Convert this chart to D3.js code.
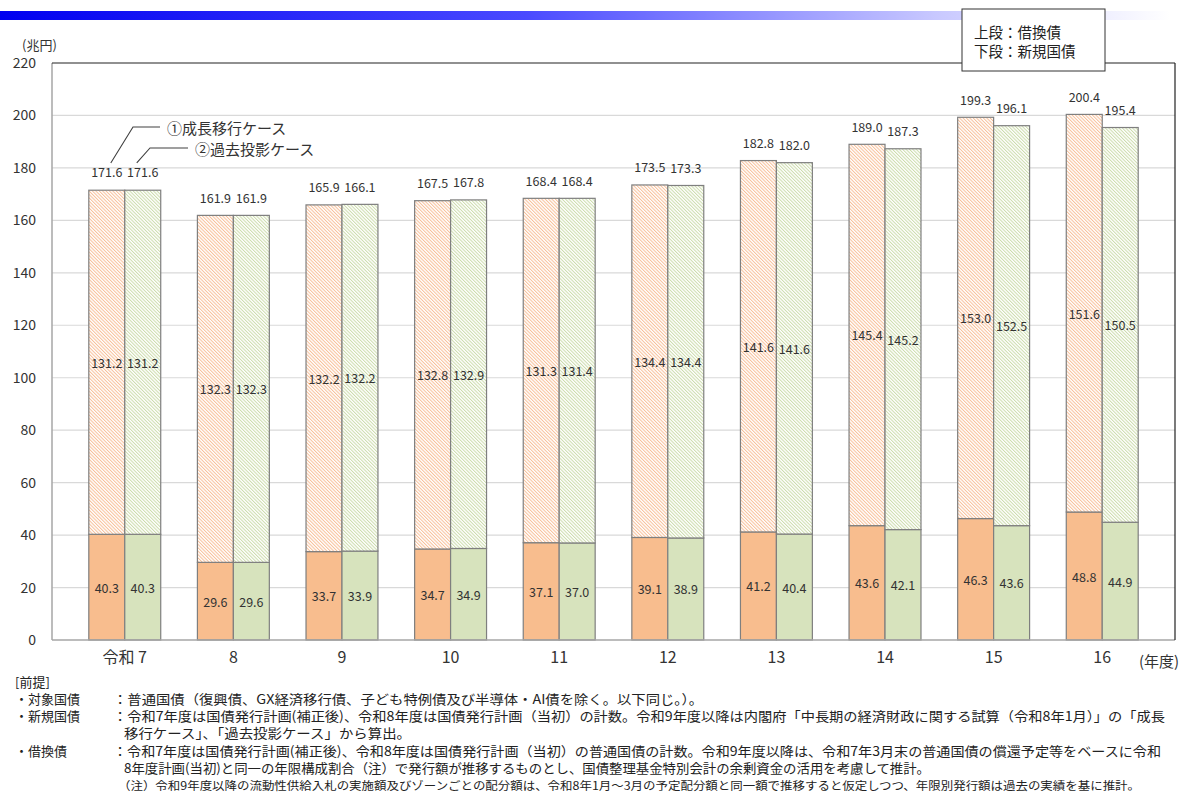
<!DOCTYPE html>
<html>
<head>
<meta charset="utf-8">
<script src="https://cdn.jsdelivr.net/npm/d3@7"></script>
<style>
  html, body { margin: 0; padding: 0; background: #fff; }
  svg { display: block; font-family: "Noto Sans CJK JP", "Noto Sans", sans-serif; }
</style>
</head>
<body>
<svg id="chart" width="1179" height="792"></svg>
<script>
// Fiscal years (Reiwa era)
const categories = ["令和 7", "8", "9", "10", "11", "12", "13", "14", "15", "16"];

// ① 成長移行ケース (trillion yen)
const newBondsGrowth = [40.3, 29.6, 33.7, 34.7, 37.1, 39.1, 41.2, 43.6, 46.3, 48.8];
const refiGrowth     = [131.2, 132.3, 132.2, 132.8, 131.3, 134.4, 141.6, 145.4, 153.0, 151.6];
const totalGrowth    = [171.6, 161.9, 165.9, 167.5, 168.4, 173.5, 182.8, 189.0, 199.3, 200.4];

// ② 過去投影ケース (trillion yen)
const newBondsPast = [40.3, 29.6, 33.9, 34.9, 37.0, 38.9, 40.4, 42.1, 43.6, 44.9];
const refiPast     = [131.2, 132.3, 132.2, 132.9, 131.4, 134.4, 141.6, 145.2, 152.5, 150.5];
const totalPast    = [171.6, 161.9, 166.1, 167.8, 168.4, 173.3, 182.0, 187.3, 196.1, 195.4];

const yTicks = [0, 20, 40, 60, 80, 100, 120, 140, 160, 180, 200, 220];

const series = [
  { key: "growth", newVals: newBondsGrowth, refiVals: refiGrowth, totals: totalGrowth,
    solid: "#f8bd8e", hatch: "#f8bf98", hatchId: "hatchOrange" },
  { key: "past", newVals: newBondsPast, refiVals: refiPast, totals: totalPast,
    solid: "#d7e3bd", hatch: "#ccdcab", hatchId: "hatchGreen" }
];

const svg = d3.select("#chart");
const plot = { left: 52, right: 1175, top: 63, bottom: 640 };

// header bar gradient
const defs = svg.append("defs");
const grad = defs.append("linearGradient").attr("id", "headerGrad")
  .attr("x1", "0%").attr("x2", "100%").attr("y1", "0%").attr("y2", "0%");
grad.append("stop").attr("offset", "0%").attr("stop-color", "#0000f0");
grad.append("stop").attr("offset", "45%").attr("stop-color", "#4a4aff");
grad.append("stop").attr("offset", "80%").attr("stop-color", "#c8c8ff");
grad.append("stop").attr("offset", "100%").attr("stop-color", "#ffffff");
svg.append("rect").attr("x", 0).attr("y", 11).attr("width", 1170).attr("height", 9)
  .attr("fill", "url(#headerGrad)");

// fine diagonal hatch patterns for refinancing bonds
const hatchStep = 2.4;
series.forEach(s => {
  const p = defs.append("pattern").attr("id", s.hatchId)
    .attr("patternUnits", "userSpaceOnUse").attr("width", hatchStep).attr("height", hatchStep)
    .attr("patternTransform", "rotate(-45)");
  p.append("rect").attr("width", hatchStep).attr("height", hatchStep).attr("fill", "#fff");
  p.append("line").attr("x1", 0.5).attr("y1", 0).attr("x2", 0.5).attr("y2", hatchStep)
    .attr("stroke", s.hatch).attr("stroke-width", 1);
});

const x = d3.scaleBand().domain(categories).range([plot.left, plot.right])
  .paddingInner(0).paddingOuter(0.17);
const xSub = d3.scaleBand().domain(series.map(s => s.key)).range([0, x.bandwidth()])
  .paddingInner(0).paddingOuter(0.51);
const y = d3.scaleLinear().domain([0, 220]).range([plot.bottom, plot.top]);

// gridlines
svg.append("g").selectAll("line").data(yTicks.filter(t => t > 0 && t < 220)).join("line")
  .attr("x1", plot.left).attr("x2", plot.right)
  .attr("y1", d => y(d)).attr("y2", d => y(d))
  .attr("stroke", "#d9d9d9").attr("stroke-width", 1.2);

// y axis labels
const yAxis = svg.append("g").attr("transform", `translate(${plot.left},0)`)
  .call(d3.axisLeft(y).tickValues(yTicks).tickSize(0).tickPadding(16));
yAxis.select(".domain").remove();
yAxis.selectAll("text").attr("font-size", 14).attr("fill", "#333")
  .attr("font-family", "'Noto Sans CJK JP', sans-serif");

svg.append("text").attr("x", 22).attr("y", 50).attr("font-size", 13).attr("fill", "#333")
  .text("(兆円)");

// bars
const groups = svg.append("g").selectAll("g").data(categories).join("g")
  .attr("transform", d => `translate(${x(d)},0)`);

series.forEach(s => {
  const bw = xSub.bandwidth();
  const bx = xSub(s.key);
  // new issuance (lower)
  groups.append("rect")
    .attr("x", bx).attr("width", bw)
    .attr("y", (d, i) => y(s.newVals[i]))
    .attr("height", (d, i) => y(0) - y(s.newVals[i]))
    .attr("fill", s.solid).attr("stroke", "#7f7f7f").attr("stroke-width", 1.2);
  // refinancing (upper)
  groups.append("rect")
    .attr("x", bx).attr("width", bw)
    .attr("y", (d, i) => y(s.newVals[i] + s.refiVals[i]))
    .attr("height", (d, i) => y(s.newVals[i]) - y(s.newVals[i] + s.refiVals[i]))
    .attr("fill", `url(#${s.hatchId})`).attr("stroke", "#7f7f7f").attr("stroke-width", 1.2);
  // labels
  groups.append("text")
    .attr("x", bx + bw / 2).attr("y", (d, i) => y(s.newVals[i] / 2))
    .attr("text-anchor", "middle").attr("dominant-baseline", "central")
    .attr("font-size", 12.5).attr("fill", "#333")
    .text((d, i) => s.newVals[i].toFixed(1));
  groups.append("text")
    .attr("x", bx + bw / 2).attr("y", (d, i) => y(s.newVals[i] + s.refiVals[i] / 2))
    .attr("text-anchor", "middle").attr("dominant-baseline", "central")
    .attr("font-size", 12.5).attr("fill", "#333")
    .text((d, i) => s.refiVals[i].toFixed(1));
  groups.append("text")
    .attr("x", bx + bw / 2).attr("y", (d, i) => y(s.totals[i]) - 18)
    .attr("text-anchor", "middle").attr("dominant-baseline", "central")
    .attr("font-size", 12.5).attr("fill", "#333")
    .text((d, i) => s.totals[i].toFixed(1));
});

// plot frame
svg.append("line").attr("x1", plot.left).attr("x2", plot.left)
  .attr("y1", plot.top).attr("y2", plot.bottom).attr("stroke", "#a6a6a6").attr("stroke-width", 1.5);
svg.append("line").attr("x1", plot.left).attr("x2", plot.right)
  .attr("y1", plot.bottom).attr("y2", plot.bottom).attr("stroke", "#a6a6a6").attr("stroke-width", 1.5);
svg.append("line").attr("x1", plot.left).attr("x2", plot.right)
  .attr("y1", plot.top).attr("y2", plot.top).attr("stroke", "#222").attr("stroke-width", 1.2);
svg.append("line").attr("x1", plot.right).attr("x2", plot.right)
  .attr("y1", plot.top).attr("y2", plot.bottom).attr("stroke", "#222").attr("stroke-width", 1.2);

// x axis labels
const xAxis = svg.append("g").attr("transform", `translate(0,${plot.bottom})`)
  .call(d3.axisBottom(x).tickSize(0).tickPadding(12));
xAxis.select(".domain").remove();
xAxis.selectAll("text").attr("font-size", 16).attr("fill", "#333")
  .attr("font-family", "'Noto Sans CJK JP', sans-serif");
svg.append("text").attr("x", 1139).attr("y", 667).attr("font-size", 15).attr("fill", "#333")
  .text("(年度)");

// case annotations: leader lines from the first pair's total labels
const c0 = x(categories[0]);
const ann = [
  { key: "growth", label: "①成長移行ケース", dx: 4, bendX: 133, bendY: 127, endX: 160, textX: 167 },
  { key: "past", label: "②過去投影ケース", dx: -6, bendX: 150, bendY: 148, endX: 188, textX: 195 }
];
ann.forEach((a, i) => {
  const sx = c0 + xSub(a.key) + xSub.bandwidth() / 2 + a.dx;
  const sy = y(series[i].totals[0]) - 27;
  svg.append("polyline")
    .attr("points", `${sx},${sy} ${a.bendX},${a.bendY} ${a.endX},${a.bendY}`)
    .attr("fill", "none").attr("stroke", "#404040").attr("stroke-width", 1.1);
  svg.append("text").attr("x", a.textX).attr("y", a.bendY).attr("dominant-baseline", "central")
    .attr("font-size", 15).attr("fill", "#333").text(a.label);
});

// legend box
svg.append("rect").attr("x", 962).attr("y", 9).attr("width", 143).attr("height", 62)
  .attr("fill", "#fff").attr("stroke", "#333").attr("stroke-width", 1);
svg.append("text").attr("x", 974).attr("y", 31).attr("dominant-baseline", "central")
  .attr("font-size", 14.5).attr("fill", "#222").text("上段：借換債");
svg.append("text").attr("x", 974).attr("y", 50).attr("dominant-baseline", "central")
  .attr("font-size", 14.5).attr("fill", "#222").text("下段：新規国債");

// notes
const notes = [
  { x: 15, y: 681, size: 13, text: "[前提]" },
  { x: 15, y: 698, size: 13, text: "・対象国債" },
  { x: 113, y: 698, size: 13, text: "：普通国債（復興債、GX経済移行債、子ども特例債及び半導体・AI債を除く。以下同じ。）。", w: 590 },
  { x: 15, y: 715, size: 13, text: "・新規国債" },
  { x: 113, y: 715, size: 13, text: "：令和7年度は国債発行計画(補正後)、令和8年度は国債発行計画（当初）の計数。令和9年度以降は内閣府「中長期の経済財政に関する試算（令和8年1月）」の「成長", w: 1052 },
  { x: 124, y: 732, size: 13, text: "移行ケース」、「過去投影ケース」から算出。", w: 287 },
  { x: 15, y: 750, size: 13, text: "・借換債" },
  { x: 113, y: 750, size: 13, text: "：令和7年度は国債発行計画(補正後)、令和8年度は国債発行計画（当初）の普通国債の計数。令和9年度以降は、令和7年3月末の普通国債の償還予定等をベースに令和", w: 1048 },
  { x: 124, y: 767, size: 13, text: "8年度計画(当初)と同一の年限構成割合（注）で発行額が推移するものとし、国債整理基金特別会計の余剰資金の活用を考慮して推計。", w: 806 },
  { x: 118, y: 785, size: 11.5, text: "（注）令和9年度以降の流動性供給入札の実施額及びゾーンごとの配分額は、令和8年1月～3月の予定配分額と同一額で推移すると仮定しつつ、年限別発行額は過去の実績を基に推計。", w: 1022 }
];
svg.append("g").selectAll("text").data(notes).join("text")
  .attr("x", d => d.x).attr("y", d => d.y).attr("dominant-baseline", "central")
  .attr("font-size", d => d.size).attr("fill", "#222")
  .each(function (d) {
    if (d.w) d3.select(this).attr("textLength", d.w).attr("lengthAdjust", "spacingAndGlyphs");
  })
  .text(d => d.text);
</script>
</body>
</html>
